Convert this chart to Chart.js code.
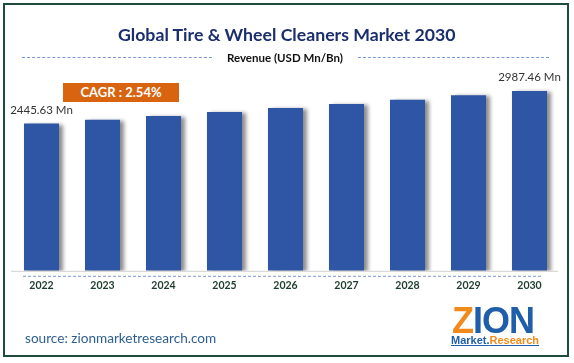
<!DOCTYPE html>
<html>
<head>
<meta charset="utf-8">
<script src="https://cdn.jsdelivr.net/npm/chart.js@4"></script>
<style>
  body { margin: 0; background: #fff; font-family: Lato, "Open Sans", sans-serif; }
  #moldura { position: absolute; left: 3px; top: 3px; width: 562px; height: 350px; border: 2px solid #1e4b3b; }
  #grafico { position: absolute; left: 0; top: 0; }
  .txt { position: absolute; white-space: nowrap; }
  #titulo { left: 118px; top: 23.5px; font-size: 17.7px; font-weight: bold; color: #1b2f6e; }
  #sub { left: 222px; width: 126px; top: 51px; text-align: center; font-size: 11.5px; font-weight: bold; color: #111; }
  .tracejado { position: absolute; top: 57px; height: 0; border-top: 1px dashed #7a9ad6; }
  #cagr { left: 63px; top: 83px; width: 116px; height: 19px; background: #d8640f; color: #fff; font-weight: bold; font-size: 13px; line-height: 19px; text-align: center; }
  #fonte { left: 25px; top: 329.6px; font-size: 13.6px; color: #2d5f91; }
  #logo1 { left: 452px; top: 300px; font-size: 36px; font-weight: bold; color: #1f5ea8; letter-spacing: -1px; font-family: "Liberation Sans", Arial, sans-serif; }
  #logo1 span { color: #f08a1c; }
  #logo2 { left: 451px; top: 334px; font-size: 11px; font-weight: bold; color: #1f5ea8; text-decoration: underline; font-family: "Liberation Sans", Arial, sans-serif; }
  #logo2 span { color: #f08a1c; }
</style>
</head>
<body>
<div id="moldura"></div>
<canvas id="grafico" width="574" height="363"></canvas>
<div class="txt" id="titulo">Global Tire &amp; Wheel Cleaners Market 2030</div>
<div class="tracejado" style="left:22px; width:190px;"></div>
<div class="txt" id="sub">Revenue (USD Mn/Bn)</div>
<div class="tracejado" style="left:358px; width:191px;"></div>
<div class="txt" id="cagr">CAGR : 2.54%</div>
<div class="txt" id="fonte">source: zionmarketresearch.com</div>
<div class="txt" id="logo1"><span>Z</span>ION</div>
<div class="txt" id="logo2">Market.<span>Research</span></div>
<script>
// dados do gráfico
const anos = ['2022', '2023', '2024', '2025', '2026', '2027', '2028', '2029', '2030'];
const receita = [2445.63, 2507.8, 2571.5, 2636.8, 2703.7, 2772.4, 2842.8, 2915.0, 2987.46];
const rotulos = ['2445.63 Mn', '', '', '', '', '', '', '', '2987.46 Mn'];

// sombra das barras, linha base e rótulos de valor
const extras = {
    id: 'extras',
    beforeDatasetDraw(chart) {
        const ctx = chart.ctx;
        ctx.save();
        ctx.shadowColor = 'rgba(0,0,0,0.45)';
        ctx.shadowOffsetX = 4;
        ctx.shadowOffsetY = 1;
        ctx.shadowBlur = 4;
    },
    afterDatasetDraw(chart) {
        chart.ctx.restore();
    },
    afterDraw(chart) {
        const ctx = chart.ctx;
        const area = chart.chartArea;
        const y = chart.scales.y;
        const x = chart.scales.x;
        ctx.save();
        // linha base
        ctx.strokeStyle = '#d0d0d0';
        ctx.lineWidth = 1;
        ctx.beginPath();
        ctx.moveTo(area.left, y.getPixelForValue(0) + 0.5);
        ctx.lineTo(area.right - 2, y.getPixelForValue(0) + 0.5);
        ctx.stroke();
        // linha tracejada azul
        ctx.strokeStyle = '#7a9ad6';
        ctx.setLineDash([3, 2]);
        ctx.beginPath();
        ctx.moveTo(area.left + 12, y.getPixelForValue(0) + 5.5);
        ctx.lineTo(area.right - 17, y.getPixelForValue(0) + 5.5);
        ctx.stroke();
        ctx.setLineDash([]);
        // rótulos
        ctx.fillStyle = '#333';
        ctx.font = '11.5px Lato, sans-serif';
        ctx.textAlign = 'center';
        ctx.textBaseline = 'alphabetic';
        receita.forEach((v, i) => {
            if (!rotulos[i]) return;
            ctx.fillText(rotulos[i], x.getPixelForValue(i), y.getPixelForValue(v) - 9.5);
        });
        ctx.restore();
    }
};

new Chart(document.getElementById('grafico'), {
    type: 'bar',
    data: {
        labels: anos,
        datasets: [{
            data: receita,
            backgroundColor: '#2f55a5',
            barPercentage: 0.575,
            categoryPercentage: 1
        }]
    },
    options: {
        responsive: false,
        animation: false,
        layout: { padding: { left: 11, right: 14, top: 30, bottom: 71 } },
        plugins: { legend: { display: false }, tooltip: { enabled: false } },
        scales: {
            x: {
                grid: { display: false },
                border: { display: false },
                ticks: { color: '#1e3d2e', font: { size: 10.5, lineHeight: 13.2 / 10.5, weight: 'bold', family: 'Lato, sans-serif' }, padding: 0 }
            },
            y: {
                display: false,
                min: 0,
                max: 4000
            }
        }
    },
    plugins: [extras]
});
</script>
</body>
</html>
